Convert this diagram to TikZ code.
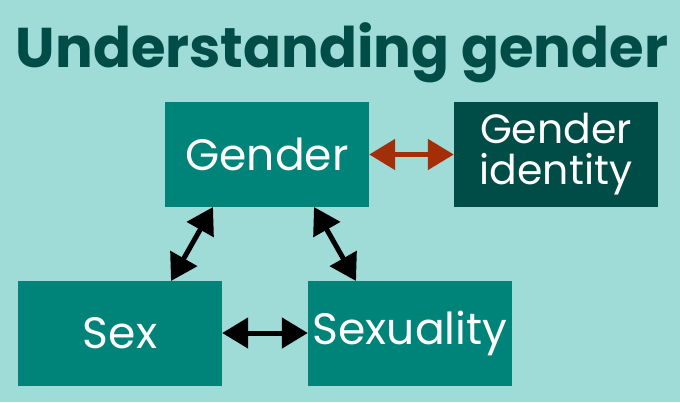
\documentclass[tikz,border=0pt]{standalone}
\usepackage{fontspec}
\setmainfont{Poppins}
\usetikzlibrary{arrows.meta}
\definecolor{bg}{HTML}{9FDBD7}
\definecolor{teal1}{HTML}{00847A}
\definecolor{teal2}{HTML}{004C47}
\definecolor{rust}{HTML}{A32E08}
\begin{document}
\begin{tikzpicture}[x=1pt,y=-1pt,
  box/.style={fill=teal1,minimum width=204pt,minimum height=105pt,inner sep=0pt,text=white,font=\fontsize{44}{46}\selectfont,align=center},
  dbox/.style={box,fill=teal2,font=\fontsize{41}{41}\selectfont},
  link/.style={line width=5pt,{Triangle[length=26pt,width=30pt]}-{Triangle[length=26pt,width=30pt]}},
]
\fill[bg] (0,0) rectangle (680,402);
\useasboundingbox (0,0) rectangle (680,402);
\node[text=teal2,font=\fontsize{56}{60}\selectfont\bfseries,anchor=base] (title) at (342,67) {Understanding gender};
\node[box] (gender) at (267,154.5) {Gender};
\node[dbox] (gid) at (556,154.5) {Gender\\identity};
\node[box] (sex) at (120,333) {Sex};
\node[box] (sexuality) at (410,333) {Sexuality};
\coordinate (g1) at (213,207);
\coordinate (s1) at (171,281);
\coordinate (g2) at (314,207);
\coordinate (x2) at (356,281);
\draw[link,rust] (gender.east) -- (gid.west);
\draw[link] (g1) -- (s1);
\draw[link] (g2) -- (x2);
\draw[link] (sex.east) -- (sexuality.west);
\end{tikzpicture}
\end{document}
